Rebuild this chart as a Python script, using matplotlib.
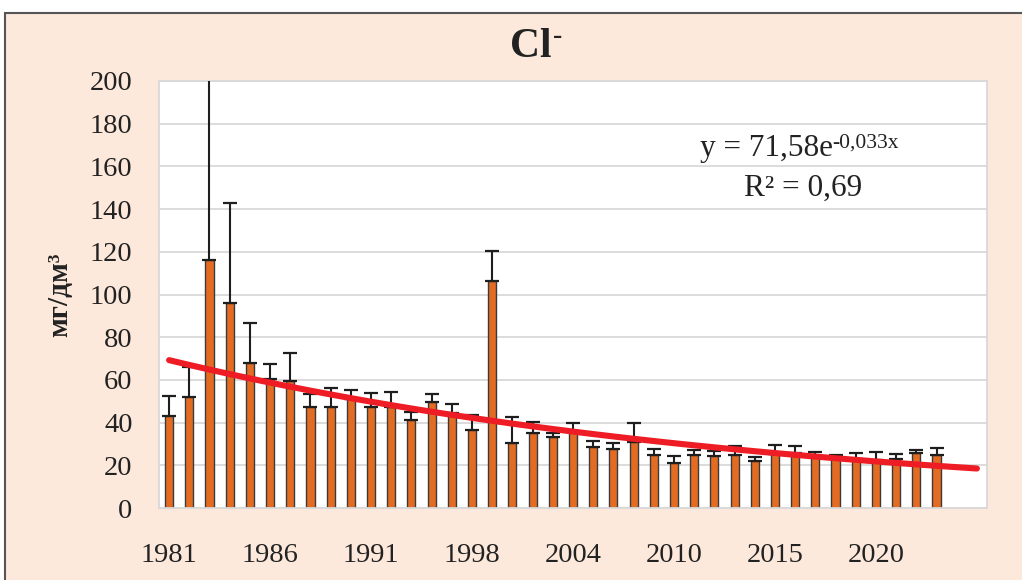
import numpy as np
import matplotlib
matplotlib.use("Agg")
import matplotlib.pyplot as plt
from matplotlib.patches import Rectangle

# Years shown as categories (tick label on every 5th one)
years = [1981, 1982, 1983, 1984, 1985, 1986, 1987, 1988, 1989, 1990,
         1991, 1992, 1993, 1995, 1996, 1998, 1999, 2000, 2002, 2003,
         2004, 2005, 2006, 2007, 2009, 2010, 2011, 2012, 2013, 2014,
         2015, 2016, 2017, 2018, 2019, 2020, 2021, 2022, 2023]
# Mean Cl- concentration, mg/dm3
values = [43, 52, 116, 96, 68, 60.3, 59.6, 47.2, 47.2, 51,
          47.2, 47.5, 41.3, 49.6, 44.5, 36.7, 106.5, 30.4, 35, 33.1,
          35.5, 28.7, 27.5, 31, 24.7, 21.3, 24.7, 24.4, 24.8, 21.9,
          25.5, 25.9, 24.5, 24, 23, 22.5, 23.1, 25.6, 24.7]
# Upper error bar length
errors = [9.6, 14, 120, 47, 18.7, 7.1, 12.8, 6.3, 8.9, 4.3,
          6.8, 6.7, 3.5, 3.7, 4.2, 7, 13.9, 12.1, 5.1, 2,
          4.5, 2.8, 2.8, 9, 2.9, 3, 2.5, 2.4, 4.4, 2.1,
          4, 3.1, 1.6, 0.8, 2.6, 3.9, 2.3, 1.7, 3.4]
# Exponential trend from the chart: y = a*exp(b*x), forecast 2 periods ahead
trend_a, trend_b = 71.58, -0.033
forecast = 2

plt.rcParams['font.family'] = ['Liberation Serif', 'DejaVu Serif']

fig = plt.figure(figsize=(10.22, 5.8), dpi=100, facecolor='white')
# peach chart area with dark border (cropped at right / bottom)
fig.patches.append(Rectangle((4.5 / 1022, -0.05), 1.1, 1.05 - 12.5 / 580,
                             transform=fig.transFigure, facecolor='#FDE9DB',
                             edgecolor='#555555', linewidth=1.5, zorder=-5))

ax = fig.add_axes([159 / 1022, 1 - 508 / 580, 828 / 1022, 427 / 580])
ax.set_facecolor('white')

n = len(years)
x = np.arange(n)
ax.bar(x, values, width=0.4, color='#E46C22', edgecolor='#3A3A3A',
       linewidth=1.0, zorder=2)
ax.errorbar(x, values, yerr=[np.zeros(n), errors], fmt='none',
            ecolor='#1E1E1E', elinewidth=1.5, capsize=5, capthick=1.6,
            zorder=3)

xt = np.arange(n + forecast)
ax.plot(xt, trend_a * np.exp(trend_b * (xt + 1)), color='#EE1C25',
        linewidth=4.4, solid_capstyle='round', zorder=4)

ax.set_xlim(-0.5, n + forecast - 0.5)
ax.set_ylim(0, 200)
ax.set_yticks(range(0, 201, 20))
ax.set_xticks(x[::5])
ax.set_xticklabels([str(y) for y in years[::5]])
ax.tick_params(axis='both', length=0, labelsize=20.5, colors='#222222')
ax.tick_params(axis='y', pad=19)
ax.tick_params(axis='x', pad=25)
ax.grid(axis='y', color='#D9D9D9', linewidth=1.3, zorder=0)
ax.set_axisbelow(True)
for s in ax.spines.values():
    s.set_color('#D9D9D9')
    s.set_linewidth(1.3)

ax.set_ylabel('мг/дм³', fontsize=21, fontweight='bold', color='#222222')
ax.yaxis.set_label_coords(-0.103, 0.5)

# title with superscript minus
t = fig.text(551 / 1022, 1 - 47 / 580, 'Cl', fontsize=30, fontweight='bold',
             ha='right', va='center', color='#222222')
fig.text(553 / 1022, 1 - 36 / 580, '-', fontsize=20, fontweight='bold',
         ha='left', va='center', color='#222222')

# trend equation
eq = ax.text(0.653, 0.843, 'y = 71,58e', transform=ax.transAxes,
             fontsize=22.5, ha='left', va='center', color='#222222')
ax.annotate('-0,033x', xy=(1.0, 1.0), xycoords=eq, ha='left', va='top',
            fontsize=15.5, color='#222222', annotation_clip=False)
ax.text(0.778, 0.749, 'R² = 0,69', transform=ax.transAxes, fontsize=22.5,
        ha='center', va='center', color='#222222')

fig.savefig('out.png', dpi=100, facecolor='white')
